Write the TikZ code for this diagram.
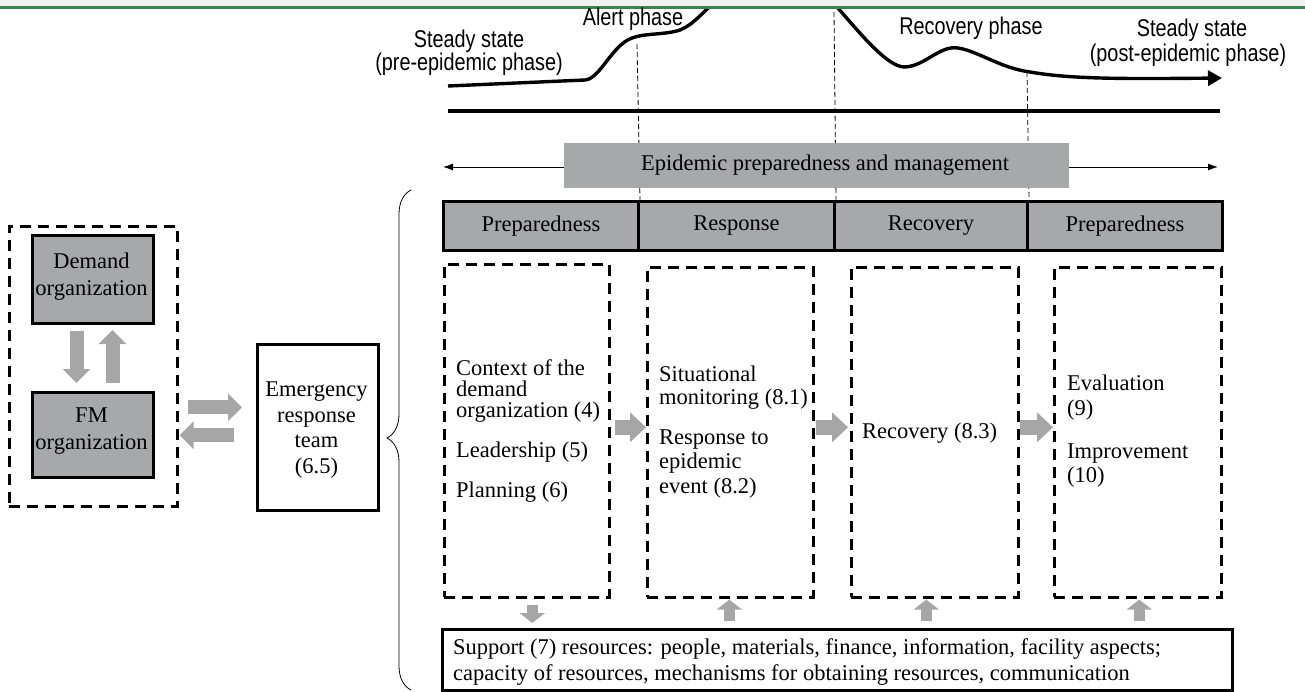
\documentclass[tikz,border=0pt]{standalone}
\usepackage{fontspec}
\setmainfont{Liberation Serif}
\IfFontExistsTF{Liberation Sans Narrow}{\newfontfamily\lblfont{Liberation Sans Narrow}}{\newfontfamily\lblfont[FakeStretch=0.82]{Liberation Sans}}
\usetikzlibrary{arrows.meta,decorations.pathreplacing,calc}
\definecolor{boxgray}{HTML}{A7A8AA}
\definecolor{argray}{HTML}{A6A6A6}
\definecolor{topgreen}{HTML}{3F8052}
\definecolor{topband}{HTML}{F2F2F2}
\tikzset{
  solidbox/.style={draw, line width=3pt, fill=boxgray, inner sep=0, anchor=north west},
  plainbox/.style={draw, line width=2.6pt, fill=white, inner sep=0, anchor=north west},
  dbox/.style={draw, line width=2.6pt, dash pattern=on 11pt off 7pt, inner sep=0, anchor=north west},
  txt/.style={font=\fontsize{22.5}{27}\selectfont, inner sep=0},
  lbl/.style={font=\lblfont\fontsize{24.2}{28}\selectfont, inner sep=0, anchor=base},
  bigarrow/.style={argray, line width=15pt, -{Triangle[length=16pt,width=29pt]}},
  varrow/.style={argray, line width=14pt, -{Triangle[length=14pt,width=27pt]}},
  smallarrow/.style={argray, line width=11pt, -{Triangle[length=10pt,width=25pt]}},
  vguide/.style={line width=0.8pt, dash pattern=on 5pt off 3pt},
}
\begin{document}
\begin{tikzpicture}[x=1pt,y=-1pt]
\useasboundingbox (0,0) rectangle (1305,691);

% ---- epidemic curve ----
\draw[line width=3.4pt] (448,86) -- (585,80)
  .. controls (600,79) and (612,45) .. (632,38)
  .. controls (645,33) and (665,35) .. (680,30)
  .. controls (693,25) and (703,12) .. (722,-5);
\draw[line width=3.4pt, -{Triangle[length=14pt,width=15pt]}] (826,-5)
  .. controls (850,20) and (885,68) .. (905,67)
  .. controls (925,66) and (940,45) .. (958,48)
  .. controls (978,51) and (1000,68) .. (1030,72)
  .. controls (1070,79) and (1120,79) .. (1222,78);
\coordinate (bl) at (448,111);
\coordinate (br) at (1220,111);
\draw[line width=3.4pt] (bl) -- (br);

% top band
\fill[topband] (0,0) rectangle (1305,6);
\draw[topgreen, line width=3pt] (0,7.5) -- (1305,7.5);

% top labels
\node[lbl] (ss1) at (469,47) {Steady state};
\node[lbl] (pre) at (469,70) {(pre-epidemic phase)};
\node[lbl] (alert) at (633,25) {Alert phase};
\node[lbl] (recph) at (971,34) {Recovery phase};
\node[lbl] (ss2) at (1192,36) {Steady state};
\node[lbl] (post) at (1188,61) {(post-epidemic phase)};

% ---- phase bar ----
\node[solidbox, minimum width=195, minimum height=49] (p1) at (442,200) {};
\node[solidbox, minimum width=196, minimum height=49] (p2) at (637,200) {};
\node[solidbox, minimum width=193, minimum height=49] (p3) at (833,200) {};
\node[solidbox, minimum width=195, minimum height=49] (p4) at (1026,200) {};
\node[txt] at (p1.center) {Preparedness};
\node[txt] at (p2.center) {Response};
\node[txt] at (p3.center) {Recovery};
\node[txt] at (p4.center) {Preparedness};

% guides
\coordinate (g1) at (637,44);
\coordinate (g2) at (834,12);
\coordinate (g3) at (1027,72);
\draw[vguide] (g1) -- (p1.north east);
\draw[vguide] (g2) -- (p2.north east);
\draw[vguide] (g3) -- (p3.north east);

% double arrow + header bar
\coordinate (la) at (443,167);
\coordinate (ra) at (1218,167);
\draw[line width=1pt, {Latex[length=10pt,width=7pt]}-{Latex[length=10pt,width=7pt]}] (la) -- (ra);
\node[fill=boxgray, inner sep=0, minimum width=505, minimum height=45, anchor=north west] (epm) at (564,143) {};
\node[txt] (epmt) at (825,165) {Epidemic preparedness and management};

% ---- dashed activity boxes ----
\node[dbox, minimum width=165, minimum height=333] (b1) at (443,263) {};
\node[dbox, minimum width=166, minimum height=330] (b2) at (646,266) {};
\node[dbox, minimum width=167, minimum height=330] (b3) at (850,266) {};
\node[dbox, minimum width=167, minimum height=330] (b4) at (1053,266) {};

\begin{scope}[every node/.style={txt, anchor=base west}]
\node (t11) at (456,375) {Context of the};
\node (t12) at (456,396) {demand};
\node (t13) at (456,417) {organization (4)};
\node (t14) at (456,457) {Leadership (5)};
\node (t15) at (456,497) {Planning (6)};
\node (t21) at (659,381) {Situational};
\node (t22) at (659,404) {monitoring (8.1)};
\node (t23) at (659,444) {Response to};
\node (t24) at (659,468) {epidemic};
\node (t25) at (659,493) {event (8.2)};
\node (t31) at (862,438) {Recovery (8.3)};
\node (t41) at (1067,390) {Evaluation};
\node (t42) at (1067,415) {(9)};
\node (t43) at (1067,458) {Improvement};
\node (t44) at (1067,482) {(10)};
\node (s1) at (453,654) {Support (7) resources: people, materials, finance, information, facility aspects;};
\node (s2) at (453,680) {capacity of resources, mechanisms for obtaining resources, communication};
\end{scope}

% arrows between boxes
\draw[bigarrow] ($(b1.east)+(4,-3.5)$) -- ($(b2.west)+(0,-5)$);
\draw[bigarrow] ($(b2.east)+(1,-5)$) -- ($(b3.west)+(-2,-5)$);
\draw[bigarrow] ($(b3.east)+(0,-5)$) -- ($(b4.west)+(0,-5)$);

% support box
\node[draw, line width=2.6pt, inner sep=0, anchor=north west, minimum width=790, minimum height=61] (sup) at (441,628) {};
\draw[smallarrow] ($(b1.south)+(5.5,6)$) -- ($(b1.south |- sup.north)+(5.5,-5)$);
\draw[smallarrow] ($(b2.south |- sup.north)+(-1,-7)$) -- ($(b2.south)+(-1,1)$);
\draw[smallarrow] ($(b3.south |- sup.north)+(-8.5,-7)$) -- ($(b3.south)+(-8.5,1)$);
\draw[smallarrow] ($(b4.south |- sup.north)+(1.5,-7)$) -- ($(b4.south)+(1.5,1)$);

% brace
\draw[line width=0.8pt, decorate, decoration={brace, amplitude=24pt, aspect=0.504}] (411,690) -- (411,190);

% ---- left group ----
\node[dbox, minimum width=168, minimum height=280] (grp) at (8,225) {};
\node[solidbox, minimum width=121, minimum height=88] (dem) at (31,234) {};
\node[solidbox, minimum width=121, minimum height=85] (fm) at (31,391) {};
\node[txt, align=center] (demt) at (91.5,276.5) {Demand\\organization};
\node[txt, align=center] (fmt) at (91.5,431.5) {FM\\organization};
\draw[varrow] ($(dem.south)+(-16.5,6)$) -- ($(fm.north)+(-16.5,-8)$);
\draw[varrow] ($(fm.north)+(19.5,-8)$) -- ($(dem.south)+(19.5,5)$);

\node[plainbox, minimum width=121, minimum height=166] (ert) at (256,343) {};
\node[txt, align=center, font=\fontsize{22.5}{25.5}\selectfont] (ertt) at (316.5,430) {Emergency\\response\\team\\(6.5)};
\draw[varrow] ($(grp.east)+(9,41)$) -- ($(ert.west)+(-14,-20)$);
\draw[varrow] ($(ert.west)+(-22,8)$) -- ($(grp.east)+(1,69)$);
\end{tikzpicture}
\end{document}
